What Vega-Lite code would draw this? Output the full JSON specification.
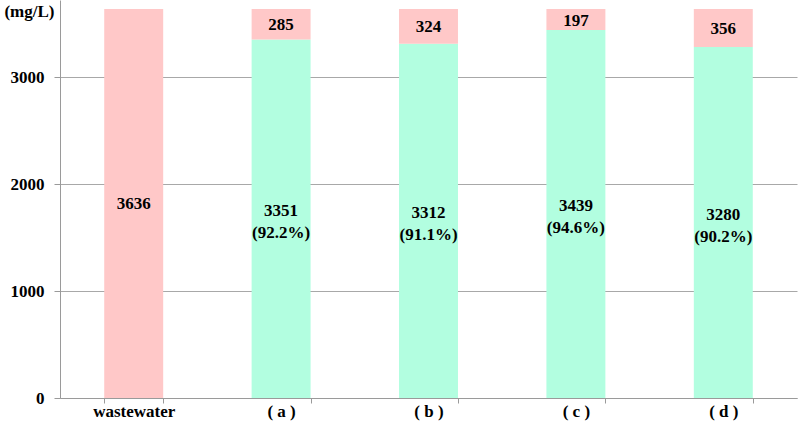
{
  "$schema": "https://vega.github.io/schema/vega-lite/v6.json",
  "width": 737,
  "height": 398,
  "autosize": {"type": "none"},
  "padding": {"left": 60, "top": 0, "right": 3, "bottom": 30},
  "background": "white",
  "config": {
    "view": {"stroke": null},
    "font": "Liberation Serif"
  },
  "data": {
    "values": [
      {"cat": "wastewater", "part": "residual", "value": 3636, "label": ["3636"]},
      {"cat": "( a )", "part": "removed", "value": 3351, "label": ["3351", "(92.2%)"]},
      {"cat": "( a )", "part": "residual", "value": 285, "label": ["285"]},
      {"cat": "( b )", "part": "removed", "value": 3312, "label": ["3312", "(91.1%)"]},
      {"cat": "( b )", "part": "residual", "value": 324, "label": ["324"]},
      {"cat": "( c )", "part": "removed", "value": 3439, "label": ["3439", "(94.6%)"]},
      {"cat": "( c )", "part": "residual", "value": 197, "label": ["197"]},
      {"cat": "( d )", "part": "removed", "value": 3280, "label": ["3280", "(90.2%)"]},
      {"cat": "( d )", "part": "residual", "value": 356, "label": ["356"]}
    ]
  },
  "transform": [
    {"stack": "value", "groupby": ["cat"], "sort": [{"field": "part", "order": "ascending"}], "as": ["v0", "v1"]},
    {"calculate": "(datum.v0 + datum.v1) / 2", "as": "mid"}
  ],
  "encoding": {
    "x": {
      "field": "cat",
      "type": "nominal",
      "sort": null,
      "scale": {"paddingInner": 0.6, "paddingOuter": 0.3},
      "axis": {
        "title": null,
        "labelAngle": 0,
        "labelFont": "Liberation Serif",
        "labelFontWeight": "bold",
        "labelFontSize": 17,
        "labelColor": "black",
        "labelPadding": 0,
        "tickBand": "extent",
        "tickColor": "#9a9a9a",
        "tickSize": 5,
        "domainColor": "#9a9a9a"
      }
    }
  },
  "layer": [
    {
      "mark": {"type": "bar"},
      "encoding": {
        "y": {
          "field": "v0",
          "type": "quantitative",
          "scale": {"domain": [0, 3720], "nice": false},
          "axis": {
            "values": [0, 1000, 2000, 3000],
            "format": "d",
            "title": "(mg/L)",
            "titleAngle": 0,
            "titleAlign": "right",
            "titleBaseline": "middle",
            "titleX": -6,
            "titleY": 11,
            "titleFont": "Liberation Serif",
            "titleFontWeight": "bold",
            "titleFontSize": 17,
            "titleColor": "black",
            "labelFont": "Liberation Serif",
            "labelFontWeight": "bold",
            "labelFontSize": 17,
            "labelColor": "black",
            "labelPadding": 10,
            "tickColor": "#9a9a9a",
            "tickSize": 6,
            "domainColor": "#9a9a9a",
            "grid": true,
            "gridColor": "#a8a8a8"
          }
        },
        "y2": {"field": "v1"},
        "color": {
          "field": "part",
          "type": "nominal",
          "scale": {"domain": ["removed", "residual"], "range": ["#b2fee0", "#ffc8c8"]},
          "legend": null
        }
      }
    },
    {
      "transform": [{"filter": "datum.part === 'residual'"}],
      "mark": {"type": "text", "font": "Liberation Serif", "fontWeight": "bold", "fontSize": 17, "baseline": "middle", "color": "black", "dy": 1},
      "encoding": {
        "y": {"field": "mid", "type": "quantitative"},
        "text": {"field": "label"}
      }
    },
    {
      "transform": [{"filter": "datum.part === 'removed'"}],
      "mark": {"type": "text", "font": "Liberation Serif", "fontWeight": "bold", "fontSize": 17, "lineHeight": 22, "baseline": "middle", "color": "black", "dy": -8},
      "encoding": {
        "y": {"field": "mid", "type": "quantitative"},
        "text": {"field": "label"}
      }
    }
  ]
}
